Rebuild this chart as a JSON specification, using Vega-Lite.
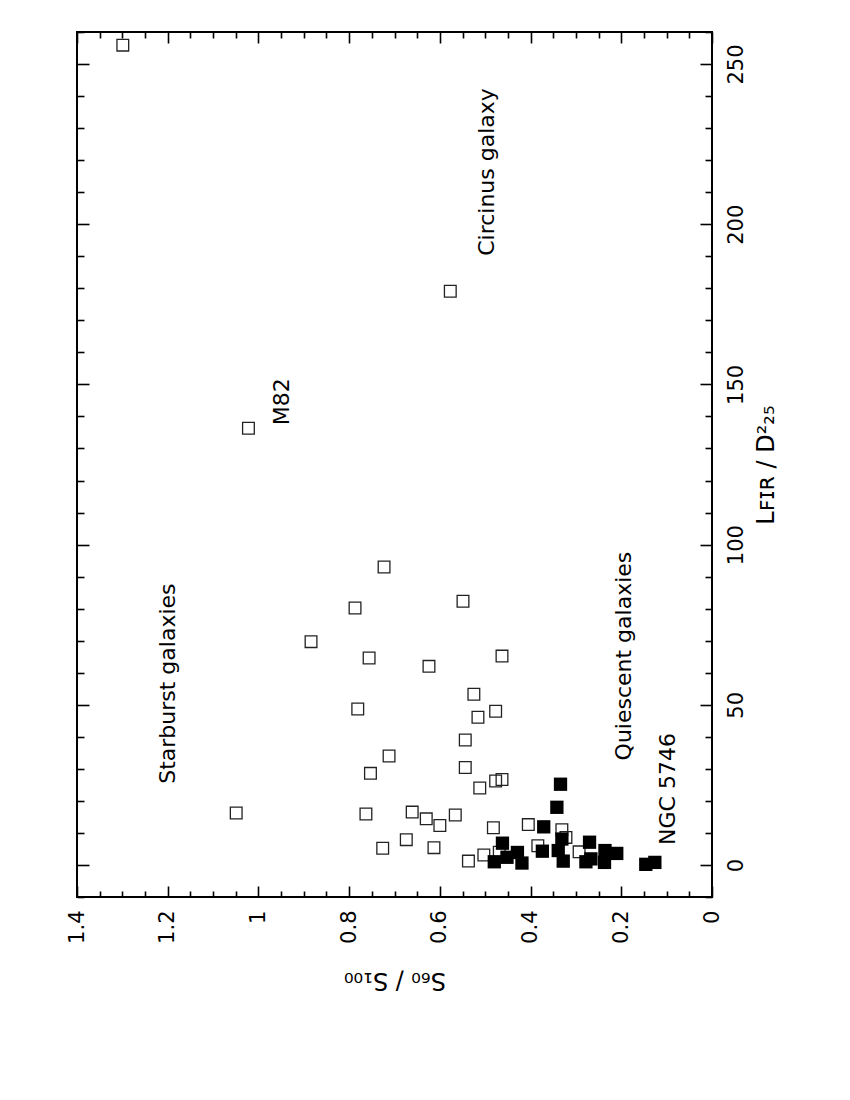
{
  "$schema": "https://vega.github.io/schema/vega-lite/v6.json",
  "width": 635,
  "height": 865,
  "autosize": "none",
  "padding": {"left": 77, "top": 32, "right": 138, "bottom": 203},
  "background": "white",
  "config": {
    "view": {"stroke": "#000", "strokeWidth": 2},
    "axis": {"grid": false, "domain": false, "tickColor": "#000", "tickWidth": 1.6, "labelColor": "#000", "titleColor": "#000", "labelFont": "DejaVu Sans", "titleFont": "DejaVu Sans", "labelFontSize": 21, "titleFontSize": 24, "titleFontWeight": "normal", "labelFlush": false, "labelOverlap": false}
  },
  "datasets": {
    "open": [
      {"S": 1.299, "L": 255.9}, {"S": 0.577, "L": 179.1}, {"S": 1.022, "L": 136.3},
      {"S": 0.723, "L": 93.0}, {"S": 0.549, "L": 82.3}, {"S": 0.787, "L": 80.2},
      {"S": 0.884, "L": 69.7}, {"S": 0.756, "L": 64.6}, {"S": 0.624, "L": 62.0},
      {"S": 0.463, "L": 65.2}, {"S": 0.525, "L": 53.3}, {"S": 0.781, "L": 48.7},
      {"S": 0.477, "L": 48.0}, {"S": 0.516, "L": 46.1}, {"S": 0.544, "L": 39.0},
      {"S": 0.712, "L": 34.0}, {"S": 0.753, "L": 28.6}, {"S": 1.049, "L": 16.2},
      {"S": 0.763, "L": 15.9}, {"S": 0.661, "L": 16.5}, {"S": 0.630, "L": 14.4},
      {"S": 0.600, "L": 12.3}, {"S": 0.674, "L": 7.9}, {"S": 0.726, "L": 5.2},
      {"S": 0.613, "L": 5.4}, {"S": 0.544, "L": 30.4}, {"S": 0.512, "L": 24.0},
      {"S": 0.477, "L": 26.2}, {"S": 0.463, "L": 26.7}, {"S": 0.566, "L": 15.6},
      {"S": 0.482, "L": 11.6}, {"S": 0.405, "L": 12.6}, {"S": 0.331, "L": 11.0},
      {"S": 0.322, "L": 8.6}, {"S": 0.384, "L": 6.0}, {"S": 0.537, "L": 1.2},
      {"S": 0.503, "L": 3.1}, {"S": 0.469, "L": 4.0}, {"S": 0.293, "L": 4.1}
    ],
    "filled": [
      {"S": 0.334, "L": 25.2}, {"S": 0.342, "L": 18.0}, {"S": 0.371, "L": 11.9},
      {"S": 0.462, "L": 6.8}, {"S": 0.480, "L": 1.0}, {"S": 0.452, "L": 2.4},
      {"S": 0.429, "L": 3.9}, {"S": 0.419, "L": 0.6}, {"S": 0.374, "L": 4.3},
      {"S": 0.331, "L": 8.1}, {"S": 0.339, "L": 4.5}, {"S": 0.328, "L": 1.2},
      {"S": 0.270, "L": 7.1}, {"S": 0.278, "L": 1.0}, {"S": 0.267, "L": 1.9},
      {"S": 0.236, "L": 4.5}, {"S": 0.237, "L": 0.8}, {"S": 0.210, "L": 3.6},
      {"S": 0.146, "L": 0.2}, {"S": 0.126, "L": 0.8}
    ],
    "labels": [
      {"S": 1.200, "L": 56.6, "label": "Starburst galaxies"},
      {"S": 0.947, "L": 144.6, "label": "M82"},
      {"S": 0.496, "L": 216.3, "label": "Circinus galaxy"},
      {"S": 0.195, "L": 65.2, "label": "Quiescent galaxies"},
      {"S": 0.098, "L": 23.7, "label": "NGC 5746"}
    ]
  },
  "resolve": {"axis": {"x": "independent", "y": "independent"}},
  "layer": [
    {
      "data": {"name": "open"},
      "mark": {"type": "point", "shape": "square", "filled": false, "stroke": "#222", "strokeWidth": 1.3, "size": 137, "opacity": 1},
      "encoding": {
        "x": {"field": "S", "type": "quantitative", "scale": {"domain": [0, 1.4], "reverse": true, "nice": false, "zero": false},
          "axis": {"orient": "bottom", "values": [0, 0.2, 0.4, 0.6, 0.8, 1, 1.2, 1.4], "ticks": false, "labelAngle": 270, "labelAlign": "right", "labelBaseline": "middle", "labelPadding": 13,
            "labelExpr": "datum.value == 0 ? '0' : (datum.value == 1 ? '1' : format(datum.value, '.1f'))",
            "title": "S₆₀ / S₁₀₀", "titleAngle": 180, "titleBaseline": "bottom", "titlePadding": 24}},
        "y": {"field": "L", "type": "quantitative", "scale": {"domain": [-10, 260], "nice": false, "zero": false},
          "axis": {"orient": "right", "values": [0, 50, 100, 150, 200, 250], "ticks": false, "labelAngle": 270, "labelAlign": "center", "labelBaseline": "top", "labelPadding": 13,
            "title": "Lꜰɪʀ / D²₂₅", "titleAngle": 270, "titleBaseline": "top", "titlePadding": 8}}
      }
    },
    {
      "data": {"name": "filled"},
      "mark": {"type": "point", "shape": "square", "filled": true, "color": "#000", "size": 177, "opacity": 1},
      "encoding": {
        "x": {"field": "S", "type": "quantitative",
          "axis": {"orient": "bottom", "labels": false, "title": null,
            "values": [0, 0.05, 0.1, 0.15, 0.2, 0.25, 0.3, 0.35, 0.4, 0.45, 0.5, 0.55, 0.6, 0.65, 0.7, 0.75, 0.8, 0.85, 0.9, 0.95, 1, 1.05, 1.1, 1.15, 1.2, 1.25, 1.3, 1.35, 1.4],
            "tickSize": {"condition": {"test": "abs(datum.value * 5 - round(datum.value * 5)) < 0.001", "value": -11}, "value": -6}}},
        "y": {"field": "L", "type": "quantitative",
          "axis": {"orient": "right", "labels": false, "title": null,
            "values": [-10, 0, 10, 20, 30, 40, 50, 60, 70, 80, 90, 100, 110, 120, 130, 140, 150, 160, 170, 180, 190, 200, 210, 220, 230, 240, 250, 260],
            "tickSize": {"condition": {"test": "datum.value % 50 == 0", "value": -12}, "value": -7}}}
      }
    },
    {
      "data": {"name": "labels"},
      "mark": {"type": "text", "angle": 270, "align": "center", "baseline": "middle", "font": "DejaVu Sans", "fontSize": 22, "color": "#000"},
      "encoding": {
        "x": {"field": "S", "type": "quantitative",
          "axis": {"orient": "top", "labels": false, "title": null,
            "values": [0, 0.05, 0.1, 0.15, 0.2, 0.25, 0.3, 0.35, 0.4, 0.45, 0.5, 0.55, 0.6, 0.65, 0.7, 0.75, 0.8, 0.85, 0.9, 0.95, 1, 1.05, 1.1, 1.15, 1.2, 1.25, 1.3, 1.35, 1.4],
            "tickSize": {"condition": {"test": "abs(datum.value * 5 - round(datum.value * 5)) < 0.001", "value": -11}, "value": -6}}},
        "y": {"field": "L", "type": "quantitative",
          "axis": {"orient": "left", "labels": false, "title": null,
            "values": [-10, 0, 10, 20, 30, 40, 50, 60, 70, 80, 90, 100, 110, 120, 130, 140, 150, 160, 170, 180, 190, 200, 210, 220, 230, 240, 250, 260],
            "tickSize": {"condition": {"test": "datum.value % 50 == 0", "value": -12}, "value": -7}}},
        "text": {"field": "label", "type": "nominal"}
      }
    }
  ]
}
